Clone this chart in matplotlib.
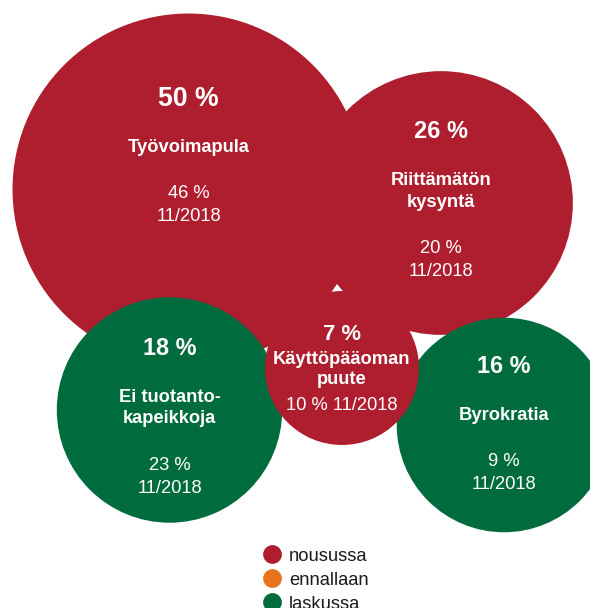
import matplotlib
matplotlib.use("Agg")
import matplotlib.pyplot as plt
from matplotlib.patches import Circle
import numpy as np

# ---- data ----
names = ["Työvoimapula", "Riittämätön\nkysyntä", "Ei tuotanto-\nkapeikkoja", "Byrokratia", "Käyttöpääoman\npuute"]
values = [50, 26, 18, 16, 7]
prev_values = [46, 20, 23, 9, 10]
prev_period = "11/2018"
trend = ["nousussa", "nousussa", "laskussa", "laskussa", "nousussa"]
legend_labels = ["nousussa", "ennallaan", "laskussa"]

# ---- styles / layout ----
colors = {"nousussa": "#AE1E2F", "ennallaan": "#E9731A", "laskussa": "#006C3E"}
# bubble centres (pixel layout of the packed-bubble placement)
centers = [(188.5, 189.5), (441, 203), (169.5, 410), (504, 425), (342, 368)]
# baseline offsets (value, name, prev) relative to centre
offsets = [(-83.5, -38, 8.5), (-64.5, -18, 50), (-55, -8.3, 60), (-52.3, -5, 40.7), (-28.5, -4, 42)]
value_fs = [19.2, 17.0, 16.8, 16.8, 15.8]
name_gap = [22, 22, 21.7, 22, 19.5]
prev_one_line = [False, False, False, False, True]
text_fs = 13.25
FONT = "Liberation Sans"

# radius scale: linear in sqrt(value) (bubble-size scale)
def radius(v):
    return 17.8 + 22.37 * np.sqrt(v)

W, H = 590, 608
fig = plt.figure(figsize=(W / 100, H / 100), dpi=100)
ax = fig.add_axes([0, 0, 1, 1])
ax.set_xlim(0, W)
ax.set_ylim(H, 0)
ax.set_aspect("equal")
ax.axis("off")

for i, (nm, v, pv, tr) in enumerate(zip(names, values, prev_values, trend)):
    cx, cy = centers[i]
    ax.add_patch(Circle((cx, cy), radius(v), facecolor=colors[tr], edgecolor="none", zorder=i + 1))
for i, (nm, v, pv, tr) in enumerate(zip(names, values, prev_values, trend)):
    cx, cy = centers[i]
    ov, on, op = offsets[i]
    z = 10
    ax.text(cx, cy + ov, f"{v} %", ha="center", va="baseline", color="white",
            fontsize=value_fs[i], fontweight="bold", family=FONT, zorder=z)
    for j, line in enumerate(nm.split("\n")):
        ax.text(cx, cy + on + j * name_gap[i], line, ha="center", va="baseline", color="white",
                fontsize=text_fs, fontweight="bold", family=FONT, zorder=z)
    if prev_one_line[i]:
        plines = [f"{pv} % {prev_period}"]
    else:
        plines = [f"{pv} %", prev_period]
    for j, line in enumerate(plines):
        ax.text(cx, cy + op + j * 23, line, ha="center", va="baseline", color="white",
                fontsize=text_fs, family=FONT, zorder=z)

# legend
lx, ly0, ldy = 271.7, 554.3, 24
for k, lab in enumerate(legend_labels):
    ax.plot([lx], [ly0 + k * ldy], marker="o", markersize=13.5, color=colors[lab],
            markeredgewidth=0, linestyle="none", zorder=20, clip_on=False)
    ax.text(289, ly0 + k * ldy, lab, ha="left", va="center_baseline", color="#1a1a1a",
            fontsize=text_fs, family=FONT, zorder=20)

fig.savefig("out.png", dpi=100)
